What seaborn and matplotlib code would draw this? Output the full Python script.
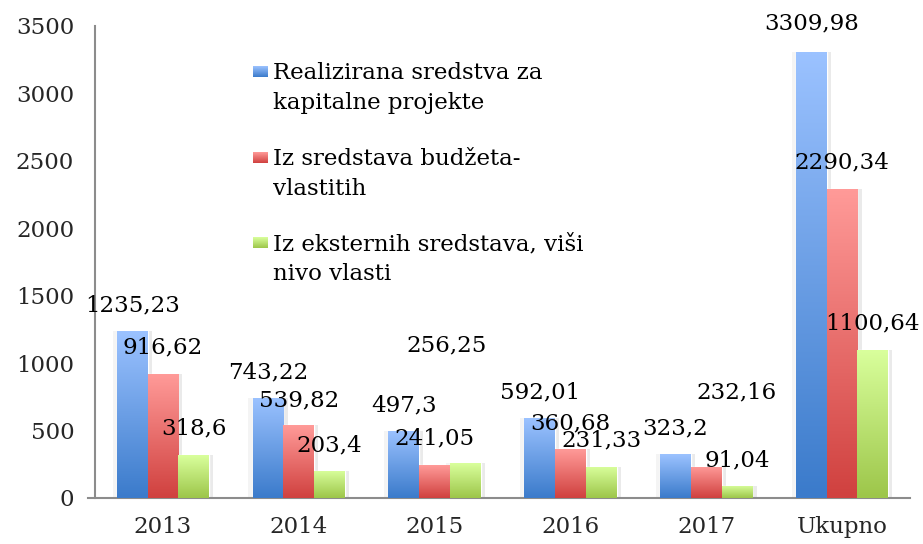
import numpy as np
import pandas as pd
import matplotlib
matplotlib.use("Agg")
import matplotlib.pyplot as plt
import matplotlib.patheffects as pe
import seaborn as sns

# --- DATA
categories = ["2013", "2014", "2015", "2016", "2017", "Ukupno"]
series_names = [
    "Realizirana sredstva za\nkapitalne projekte",
    "Iz sredstava budžeta-\nvlastitih",
    "Iz eksternih sredstava, viši\nnivo vlasti",
]
realizirana = [1235.23, 743.22, 497.3, 592.01, 323.2, 3309.98]
budzet = [916.62, 539.82, 241.05, 360.68, 232.16, 2290.34]
eksterna = [318.6, 203.4, 256.25, 231.33, 91.04, 1100.64]

# label placement (data y of label centre, x shift in bar widths) - Excel moved some labels
label_y = [
    [1431, 934, 689, 786, 519, 3520],
    [1120, 726, 445, 556, 786, 2491],
    [519, 393, 1134, 430, 282, 1297],
]
label_dx = [
    [0, 0, 0, 0, 0, 0],
    [0, 0, 0, 0, 1.0, 0],
    [0, 0, -0.6, 0, 0, 0],
]

# gradient colours (top light, bottom dark)
top_cols = ["#9bc2ff", "#ff9a98", "#d9ff9c"]
bot_cols = ["#3b7bcb", "#d0413f", "#9dc64a"]

df = pd.DataFrame({
    "godina": categories * 3,
    "serija": [s for s in series_names for _ in categories],
    "iznos": realizirana + budzet + eksterna,
})

sns.set_style("white")
plt.rcParams["font.family"] = ["DejaVu Serif"]
FS = 16.5

fig = plt.figure(figsize=(9.23, 5.44), dpi=100)
ax = fig.add_axes([95 / 923, 46 / 544, 815 / 923, 472 / 544])

width = 0.68
sns.barplot(data=df, x="godina", y="iznos", hue="serija", order=categories,
            hue_order=series_names, width=width, palette=bot_cols,
            legend=False, ax=ax, saturation=1, err_kws={"linewidth": 0})

bw = width / 3


def grad_img(c_top, c_bot, n=64):
    t = np.linspace(0, 1, n)[:, None]
    a = np.array(matplotlib.colors.to_rgb(c_bot))
    b = np.array(matplotlib.colors.to_rgb(c_top))
    return (a + (b - a) * t)[:, None, :]


patches = list(ax.patches)
for k, p in enumerate(patches):
    s = k // len(categories)
    x0, y0 = p.get_x(), p.get_y()
    w, h = p.get_width(), p.get_height()
    p.set_zorder(2)
    p.set_path_effects([pe.SimplePatchShadow(offset=(3, 0), shadow_rgbFace="#bbbbbb", alpha=0.3),
                        pe.SimplePatchShadow(offset=(-3, 0), shadow_rgbFace="#dddddd", alpha=0.3),
                        pe.Normal()])
    im = ax.imshow(grad_img(top_cols[s], bot_cols[s]), extent=[x0, x0 + w, y0, y0 + h],
                   origin="lower", aspect="auto", zorder=3, interpolation="bilinear")
    im.set_clip_path(p)

# value labels
values = [realizirana, budzet, eksterna]
for s in range(3):
    for i in range(len(categories)):
        xc = i + (s - 1) * bw + label_dx[s][i] * bw
        ax.text(xc, label_y[s][i], f"{values[s][i]:g}".replace(".", ","),
                ha="center", va="center", fontsize=FS, color="black", zorder=5)

ax.set_xlim(-0.5, len(categories) - 0.5)
ax.set_ylim(0, 3500)
ax.set_yticks(np.arange(0, 3501, 500))
ax.set_xticks(range(len(categories)))
ax.set_xticks(np.arange(-0.5, len(categories), 1), minor=True)
ax.set_xlabel("")
ax.set_ylabel("")

for sp in ["top", "right"]:
    ax.spines[sp].set_visible(False)
for sp in ["left", "bottom"]:
    ax.spines[sp].set_color("#8c8c8c")
    ax.spines[sp].set_linewidth(1.5)

ax.tick_params(axis="y", length=7, width=1.5, color="#8c8c8c", labelsize=FS, pad=8, direction="out")
ax.tick_params(axis="x", which="major", length=0, labelsize=FS, pad=13)
ax.tick_params(axis="x", which="minor", length=8, width=1.5, color="#8c8c8c", direction="out")
ax.spines["bottom"].set_bounds(-0.5 - 7 / 135.8, len(categories) - 0.5)

# legend drawn by hand so the swatch sits on the first text line
ax_w, ax_h = 815, 472
def ax_xy(px, py):
    return (px - 95) / ax_w, (498 - py) / ax_h

first_base = [79, 165, 250]
for s, name in enumerate(series_names):
    lines = name.split("\n")
    for j, line in enumerate(lines):
        tx, ty = ax_xy(273, first_base[s] + 30 * j)
        ax.text(tx, ty, line, transform=ax.transAxes, ha="left", va="baseline",
                fontsize=FS, color="black")
    hx0, hy1 = ax_xy(253, first_base[s] - 13)
    hx1, hy0 = ax_xy(268, first_base[s] - 2)
    ax.imshow(grad_img(top_cols[s], bot_cols[s]), extent=[hx0, hx1, hy0, hy1],
              transform=ax.transAxes, origin="lower", aspect="auto", zorder=5)

ax.set_xlim(-0.5, len(categories) - 0.5)
ax.set_ylim(0, 3500)

fig.savefig("out.png", dpi=100)
